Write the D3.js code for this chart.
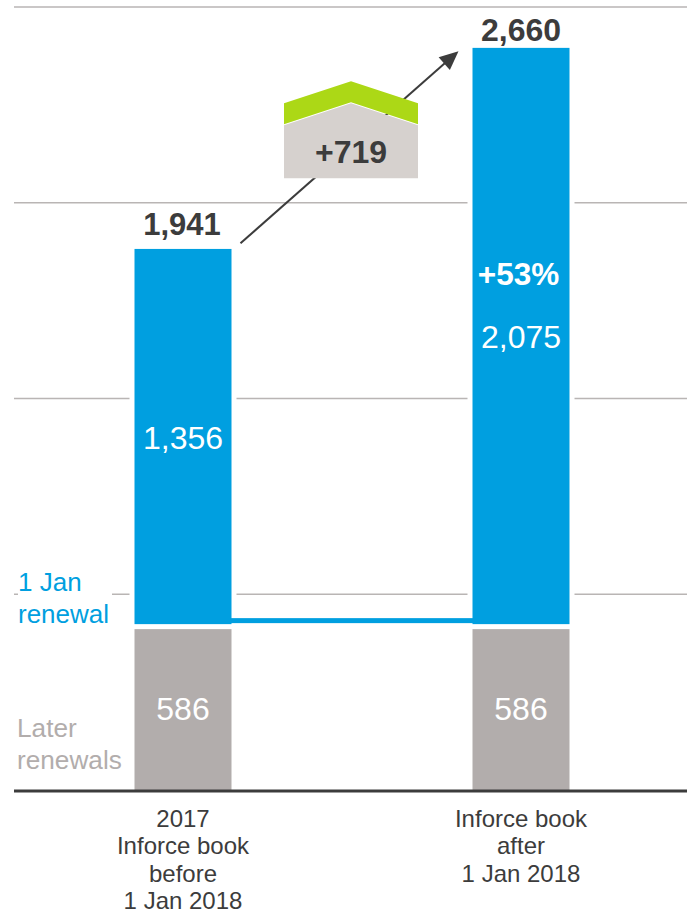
<!DOCTYPE html>
<html>
<head>
<meta charset="utf-8">
<title>Inforce book before and after 1 Jan 2018</title>
<script src="https://cdn.jsdelivr.net/npm/d3@7"></script>
<style>
  html, body { margin: 0; padding: 0; background: #fff; }
  svg { display: block; }
  text { font-family: "Liberation Sans", Arial, sans-serif; }
</style>
</head>
<body>
<div id="chart"></div>
<script>
// ── Data ──
var CATEGORIES = ['before', 'after'];
var CATEGORY_LINES = [
  ['2017', 'Inforce book', 'before', '1 Jan 2018'],
  ['Inforce book', 'after', '1 Jan 2018']
];
var LATER_RENEWALS = [586, 586];
var JAN_RENEWAL = [1356, 2075];
var TOTALS = [1941, 2660];
var GRID_TICKS = [700, 1400, 2100, 2800];
var INCREASE_LABEL = '+719';
var GROWTH_LABEL = '+53%';
var JAN_LABEL_LINES = ['1 Jan', 'renewal'];
var LATER_LABEL_LINES = ['Later', 'renewals'];

// ── Constants ──
var WIDTH = 687;
var HEIGHT = 911;
var LEFT = 14;
var BASELINE = 790;
var TOP = 7;
var BAR_WIDTH = 97;
var BLUE = '#009fe0';
var GREY = '#b2adac';
var DARK = '#3c3c3c';
var GRID = '#b9b5b4';
var HOUSE_GREEN = '#acd816';
var HOUSE_GREY = '#d6d1ce';

var fmt = d3.format(',');

var svg = d3.select('#chart').append('svg')
  .attr('width', WIDTH)
  .attr('height', HEIGHT)
  .attr('viewBox', '0 0 ' + WIDTH + ' ' + HEIGHT);

var x = d3.scaleBand().domain(CATEGORIES).range([LEFT, 690]);
var y = d3.scaleLinear().domain([0, 2800]).range([BASELINE, TOP]);

function cx(i) { return x(CATEGORIES[i]) + x.bandwidth() / 2; }
function barLeft(i) { return cx(i) - BAR_WIDTH / 2; }
function barRight(i) { return cx(i) + BAR_WIDTH / 2; }

// ── Gridlines, broken by a white halo round each bar ──
svg.append('g').selectAll('line')
  .data(GRID_TICKS)
  .join('line')
  .attr('x1', LEFT)
  .attr('x2', WIDTH)
  .attr('y1', function (d) { return y(d); })
  .attr('y2', function (d) { return y(d); })
  .attr('stroke', GRID)
  .attr('stroke-width', 1.5);

CATEGORIES.forEach(function (c, i) {
  svg.append('rect')
    .attr('x', barLeft(i) - 5)
    .attr('width', BAR_WIDTH + 10)
    .attr('y', y(TOTALS[i]) - 2)
    .attr('height', BASELINE - y(TOTALS[i]))
    .attr('fill', '#fff');
});

// Row label halo
svg.append('rect')
  .attr('x', 18).attr('y', y(700) - 24)
  .attr('width', 94).attr('height', 48)
  .attr('fill', '#fff');

// ── Connector between the two blue bars ──
svg.append('rect')
  .attr('x', barRight(0) - 1)
  .attr('y', y(LATER_RENEWALS[0]) - 8)
  .attr('width', barLeft(1) - barRight(0) + 2)
  .attr('height', 5)
  .attr('fill', BLUE);

// ── Bars ──
svg.append('g').selectAll('rect')
  .data(LATER_RENEWALS)
  .join('rect')
  .attr('x', function (d, i) { return barLeft(i); })
  .attr('width', BAR_WIDTH)
  .attr('y', function (d) { return y(d) + 3; })
  .attr('height', function (d) { return BASELINE - y(d) - 3; })
  .attr('fill', GREY);

svg.append('g').selectAll('rect')
  .data(JAN_RENEWAL)
  .join('rect')
  .attr('x', function (d, i) { return barLeft(i); })
  .attr('width', BAR_WIDTH)
  .attr('y', function (d, i) { return y(d + LATER_RENEWALS[i]) + 2; })
  .attr('height', function (d, i) { return y(LATER_RENEWALS[i]) - y(d + LATER_RENEWALS[i]) - 4; })
  .attr('fill', BLUE);

// ── Baseline ──
svg.append('line')
  .attr('x1', LEFT).attr('x2', WIDTH)
  .attr('y1', BASELINE + 1).attr('y2', BASELINE + 1)
  .attr('stroke', DARK)
  .attr('stroke-width', 3);

// ── Arrow, passes behind the house ──
var ax0 = barRight(0) + 9;
var ay0 = y(TOTALS[0]) - 4;
var ax1 = barLeft(1) - 14;
var ay1 = y(TOTALS[1]) + 5;
var angle = Math.atan2(ay1 - ay0, ax1 - ax0);

svg.append('line')
  .attr('x1', ax0).attr('y1', ay0)
  .attr('x2', ax1 - 10 * Math.cos(angle)).attr('y2', ay1 - 10 * Math.sin(angle))
  .attr('stroke', DARK)
  .attr('stroke-width', 2);

svg.append('path')
  .attr('transform', 'translate(' + ax1 + ',' + ay1 + ') rotate(' + (angle * 180 / Math.PI) + ')')
  .attr('d', 'M0,0L-19,-8.5L-19,8.5Z')
  .attr('fill', DARK);

// ── House showing the increase ──
var house = svg.append('g')
  .attr('transform', 'translate(' + ((cx(0) + cx(1)) / 2 - 1) + ',' + y(TOTALS[1]) + ')');

house.append('path')
  .attr('d', 'M-67,57L0,35L67,57L67,78L0,56L-67,78Z')
  .attr('fill', HOUSE_GREEN);

house.append('path')
  .attr('d', 'M-67,79L0,57L67,79L67,132L-67,132Z')
  .attr('fill', HOUSE_GREY);

house.append('text')
  .attr('x', 0).attr('y', 117)
  .attr('text-anchor', 'middle')
  .attr('font-size', 32)
  .attr('font-weight', 'bold')
  .attr('fill', DARK)
  .text(INCREASE_LABEL);

// ── Value labels ──
svg.append('g').selectAll('text')
  .data(TOTALS)
  .join('text')
  .attr('x', function (d, i) { return cx(i) - (i === 0 ? 1 : 0); })
  .attr('y', function (d, i) { return y(d) - (i === 0 ? 12 : 5); })
  .attr('text-anchor', 'middle')
  .attr('font-size', function (d, i) { return i === 0 ? 31 : 32; })
  .attr('font-weight', 'bold')
  .attr('fill', DARK)
  .text(function (d) { return fmt(d); });

svg.append('g').selectAll('text')
  .data(LATER_RENEWALS)
  .join('text')
  .attr('x', function (d, i) { return cx(i); })
  .attr('y', function (d) { return y(d / 2) + 12; })
  .attr('text-anchor', 'middle')
  .attr('font-size', 32)
  .attr('fill', '#fff')
  .text(function (d) { return fmt(d); });

svg.append('g').selectAll('text')
  .data(JAN_RENEWAL)
  .join('text')
  .attr('x', function (d, i) { return cx(i); })
  .attr('y', function (d, i) {
    return (y(LATER_RENEWALS[i]) + y(d + LATER_RENEWALS[i])) / 2 + 12;
  })
  .attr('text-anchor', 'middle')
  .attr('font-size', 32)
  .attr('fill', '#fff')
  .text(function (d) { return fmt(d); });

svg.append('text')
  .attr('x', cx(1) - 2.5)
  .attr('y', y(2660) + 239)
  .attr('text-anchor', 'middle')
  .attr('font-size', 31.5)
  .attr('font-weight', 'bold')
  .attr('fill', '#fff')
  .text(GROWTH_LABEL);

// ── Row labels ──
function multiline(lines, xPos, yPos, lineHeight, size, color, anchor) {
  var t = svg.append('text')
    .attr('font-size', size)
    .attr('fill', color)
    .attr('text-anchor', anchor);
  lines.forEach(function (line, i) {
    t.append('tspan')
      .attr('x', xPos)
      .attr('y', yPos + i * lineHeight)
      .text(line);
  });
}

multiline(JAN_LABEL_LINES, 18, 591, 32, 26, BLUE, 'start');
multiline(LATER_LABEL_LINES, 17, 737, 32, 26.2, GREY, 'start');

// ── Category labels ──
CATEGORY_LINES.forEach(function (lines, i) {
  multiline(lines, cx(i), 827, 27.3, 24, DARK, 'middle');
});
</script>
</body>
</html>
